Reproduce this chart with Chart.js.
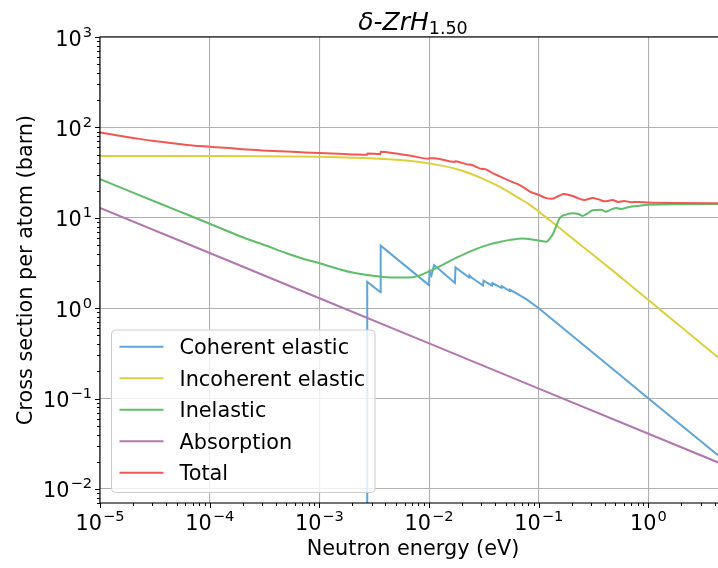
<!DOCTYPE html>
<html>
<head>
<meta charset="utf-8">
<script src="https://cdn.jsdelivr.net/npm/chart.js@4.4.1/dist/chart.umd.min.js"></script>
<style>
html, body { margin: 0; padding: 0; background: #fff; overflow: hidden; }
#wrap { width: 718px; height: 568px; overflow: hidden; position: relative; }
#wrap canvas { position: absolute; left: 0; top: 0; }
</style>
</head>
<body>
<div id="wrap"><canvas id="xsChart" width="740" height="568" style="width:740px;height:568px"></canvas></div>
<script>
// Values (energy in eV, cross section in barn)
const cohE   = [2.73e-3, 2.73e-3, 3.60e-3, 3.62e-3, 9.98e-3, 1.01e-2, 1.05e-2, 1.11e-2, 1.72e-2, 1.74e-2,
                2.32e-2, 2.34e-2, 2.42e-2, 3.10e-2, 3.14e-2, 3.74e-2, 3.78e-2, 4.55e-2, 4.60e-2, 5.40e-2,
                5.45e-2, 6.27e-2, 7.75e-2, 0.10, 0.53, 1.0, 5.09];
const cohXS  = [1e-4, 1.96, 1.50, 4.91, 1.80, 2.50, 2.30, 3.00, 1.90, 2.82,
                2.18, 2.30, 2.20, 1.78, 2.02, 1.78, 1.90, 1.68, 1.76, 1.55,
                1.60, 1.46, 1.25, 1.00, 0.19, 0.10, 0.020];

const incE   = [1e-5, 1e-4, 3e-4, 1e-3, 2e-3, 5e-3, 1e-2, 1.9e-2, 3e-2, 3.8e-2, 5e-2, 6.7e-2, 8.3e-2,
                0.1, 0.15, 0.2, 0.3, 0.5, 1.0, 2.0, 5.09];
const incXS  = [48.3, 48.2, 48.0, 47.3, 46.3, 43.8, 40.0, 33.8, 27.5, 24.0, 20.2, 16.3, 13.9,
                11.7, 7.95, 6.0, 4.05, 2.46, 1.23, 0.615, 0.242];

const inelE  = [1e-5, 2e-5, 5e-5, 1e-4, 2e-4, 3.3e-4, 5e-4, 7e-4, 1e-3, 2e-3, 3.5e-3, 4.7e-3, 7e-3,
                1e-2, 1.25e-2, 1.72e-2, 2.6e-2, 3.5e-2, 4.4e-2, 5.5e-2, 7.2e-2, 8.3e-2, 0.1, 0.118,
                0.126, 0.136, 0.146, 0.156, 0.18, 0.204, 0.23, 0.25, 0.28, 0.31, 0.37, 0.41, 0.46,
                0.51, 0.56, 0.67, 0.8, 1.0, 2.0, 5.09];
const inelXS = [26.8, 19.0, 12.1, 8.6, 6.1, 4.9, 4.05, 3.55, 3.14, 2.48, 2.24, 2.18, 2.2,
                2.55, 2.9, 3.55, 4.45, 5.05, 5.4, 5.7, 5.9, 5.8, 5.6, 5.45,
                5.9, 6.8, 8.4, 10.0, 10.9, 11.2, 11.0, 10.5, 11.2, 12.1, 12.3, 11.7, 12.4,
                12.8, 12.5, 13.2, 13.5, 13.9, 14.1, 14.2];

const absE   = [1e-5, 1e-4, 1e-3, 1e-2, 0.1, 1.0, 5.09];
const absXS  = [12.9, 4.08, 1.29, 0.408, 0.129, 0.0408, 0.0181];

const totE   = [1e-5, 1.5e-5, 2e-5, 3e-5, 5e-5, 7e-5, 1e-4, 1.5e-4, 2e-4, 3e-4, 5e-4, 7e-4, 1e-3,
                1.5e-3, 2e-3, 2.73e-3, 2.74e-3, 3.60e-3, 3.61e-3, 5e-3, 7e-3, 9.98e-3, 1.0e-2,
                1.11e-2, 1.72e-2, 1.73e-2, 2.0e-2, 2.32e-2, 2.33e-2, 3.1e-2, 3.11e-2, 3.8e-2, 4.6e-2,
                5.5e-2, 6.7e-2, 7.5e-2, 8.3e-2, 0.09, 0.1, 0.115, 0.131, 0.15, 0.17, 0.204, 0.23,
                0.26, 0.31, 0.35, 0.4, 0.47, 0.53, 0.6, 0.7, 0.8, 1.0, 2.0, 5.09];
const totXS  = [88, 81, 76.5, 71, 66, 63.2, 61.2, 59, 57.3, 55.6, 54, 53, 52,
                51, 50.3, 49.7, 51.6, 50.5, 53.8, 51.5, 48.3, 45.0, 45.7,
                45.6, 41.5, 42.3, 40.5, 38.6, 38.8, 34.5, 34.8, 31.2, 28.0,
                25.4, 23.0, 21.2, 19.5, 18.7, 17.9, 16.6, 16.2, 17.3, 18.3, 17.4, 16.4,
                15.7, 16.6, 16.0, 15.2, 15.7, 15.0, 15.3, 14.9, 15.0, 14.8, 14.6, 14.5];

const seriesLabels = ['Coherent elastic', 'Incoherent elastic', 'Inelastic', 'Absorption', 'Total'];
const seriesColors = ['#5DA5DA', '#DECF3F', '#60BD68', '#B276B2', '#F15854'];
const seriesE  = [cohE, incE, inelE, absE, totE];
const seriesXS = [cohXS, incXS, inelXS, absXS, totXS];
// coherent elastic is a sawtooth: straight segments; the rest are smooth curves
const seriesCurve = ['default', 'monotone', 'monotone', 'default', 'monotone'];

const xTickExps = [-5, -4, -3, -2, -1, 0];
const yTickExps = [-2, -1, 0, 1, 2, 3];
const xRange = [1e-5, 5.09];
const yRange = [7.0e-3, 1e3];

const FONT = '"DejaVu Sans", sans-serif';
const BASE = 20.8;

function powLabel(ctx, exp, x, y, align) {
    const expText = exp < 0 ? '\u2212' + (-exp) : String(exp);
    ctx.font = BASE + 'px ' + FONT;
    const w1 = ctx.measureText('10').width;
    ctx.font = (BASE * 0.7).toFixed(1) + 'px ' + FONT;
    const w2 = ctx.measureText(expText).width;
    const x0 = align === 'center' ? x - (w1 + w2 + 1) / 2 : x - (w1 + w2 + 1);
    ctx.textAlign = 'left';
    ctx.textBaseline = 'alphabetic';
    ctx.font = BASE + 'px ' + FONT;
    ctx.fillText('10', x0, y);
    ctx.font = (BASE * 0.7).toFixed(1) + 'px ' + FONT;
    ctx.fillText(expText, x0 + w1 + 1, y - 9);
}

const decor = {
    id: 'decor',
    afterDraw(chart) {
        const { ctx, chartArea: a, scales: { x, y } } = chart;
        ctx.save();
        ctx.fillStyle = '#000';
        ctx.strokeStyle = '#000';
        ctx.lineWidth = 1.1;

        // spines
        ctx.strokeRect(a.left, a.top, a.right - a.left, a.bottom - a.top);

        // major + minor ticks
        ctx.beginPath();
        xTickExps.forEach(e => {
            const px = Math.round(x.getPixelForValue(Math.pow(10, e))) + 0.5;
            ctx.moveTo(px, a.bottom); ctx.lineTo(px, a.bottom + 5);
        });
        yTickExps.forEach(e => {
            const py = Math.round(y.getPixelForValue(Math.pow(10, e))) + 0.5;
            ctx.moveTo(a.left, py); ctx.lineTo(a.left - 5, py);
        });
        for (let d = -5; d <= 0; d++) {
            for (let m = 2; m <= 9; m++) {
                const v = m * Math.pow(10, d);
                if (v > xRange[1]) continue;
                const px = Math.round(x.getPixelForValue(v)) + 0.5;
                ctx.moveTo(px, a.bottom); ctx.lineTo(px, a.bottom + 3);
            }
        }
        for (let d = -3; d <= 2; d++) {
            for (let m = 2; m <= 9; m++) {
                const v = m * Math.pow(10, d);
                if (v < yRange[0]) continue;
                const py = Math.round(y.getPixelForValue(v)) + 0.5;
                ctx.moveTo(a.left, py); ctx.lineTo(a.left - 3, py);
            }
        }
        ctx.lineWidth = 1;
        ctx.stroke();

        // tick labels
        xTickExps.forEach(e => powLabel(ctx, e, x.getPixelForValue(Math.pow(10, e)), a.bottom + 27, 'center'));
        yTickExps.forEach(e => powLabel(ctx, e, a.left - 8, y.getPixelForValue(Math.pow(10, e)) + 8.5, 'right'));

        // axis titles
        ctx.font = BASE + 'px ' + FONT;
        ctx.textAlign = 'center';
        ctx.textBaseline = 'alphabetic';
        ctx.fillText('Neutron energy (eV)', (a.left + a.right) / 2, 555);
        ctx.save();
        ctx.translate(31.5, (a.top + a.bottom) / 2);
        ctx.rotate(-Math.PI / 2);
        ctx.fillText('Cross section per atom (barn)', 0, 0);
        ctx.restore();

        // title: δ-ZrH with subscript 1.50
        const tMain = 'italic 25px ' + FONT, tSub = '17.5px ' + FONT;
        ctx.font = tMain; const wm = ctx.measureText('\u03b4-ZrH').width;
        ctx.font = tSub; const ws = ctx.measureText('1.50').width;
        const tx = (a.left + a.right) / 2 - (wm + ws) / 2;
        ctx.textAlign = 'left';
        ctx.font = tMain; ctx.fillText('\u03b4-ZrH', tx, 29.5);
        ctx.font = tSub; ctx.fillText('1.50', tx + wm, 34);

        // legend
        const lx = 111.5, ly = 330, lw = 263.5, lh = 162.5;
        ctx.beginPath();
        ctx.roundRect(lx, ly, lw, lh, 4);
        ctx.fillStyle = 'rgba(255,255,255,0.8)';
        ctx.fill();
        ctx.strokeStyle = '#cccccc';
        ctx.lineWidth = 1;
        ctx.stroke();
        ctx.font = BASE + 'px ' + FONT;
        seriesLabels.forEach((label, i) => {
            const ry = 346.7 + i * 31.5;
            ctx.strokeStyle = seriesColors[i];
            ctx.lineWidth = 2;
            ctx.beginPath();
            ctx.moveTo(119.5, ry); ctx.lineTo(163.5, ry);
            ctx.stroke();
            ctx.fillStyle = '#000';
            ctx.fillText(label, 179.5, ry + 7.5);
        });
        ctx.restore();
    }
};

new Chart(document.getElementById('xsChart'), {
    type: 'line',
    data: {
        datasets: seriesLabels.map((label, i) => ({
            label: label,
            data: seriesE[i].map((e, k) => ({ x: e, y: seriesXS[i][k] })),
            borderColor: seriesColors[i],
            borderWidth: 2,
            pointRadius: 0,
            tension: 0,
            cubicInterpolationMode: seriesCurve[i],
            fill: false,
            order: seriesLabels.length - i
        }))
    },
    options: {
        responsive: false,
        animation: false,
        layout: { padding: { left: 100, top: 37, right: 14, bottom: 65 } },
        plugins: { legend: { display: false }, tooltip: { enabled: false } },
        scales: {
            x: {
                type: 'logarithmic',
                min: xRange[0], max: xRange[1],
                ticks: { display: false },
                border: { display: false },
                grid: { color: '#b0b0b0', lineWidth: 1.1, drawTicks: false },
                afterBuildTicks: s => { s.ticks = xTickExps.map(e => ({ value: Math.pow(10, e) })); }
            },
            y: {
                type: 'logarithmic',
                min: yRange[0], max: yRange[1],
                ticks: { display: false },
                border: { display: false },
                grid: { color: '#b0b0b0', lineWidth: 1.1, drawTicks: false },
                afterBuildTicks: s => { s.ticks = yTickExps.map(e => ({ value: Math.pow(10, e) })); }
            }
        }
    },
    plugins: [decor]
});
</script>
</body>
</html>
